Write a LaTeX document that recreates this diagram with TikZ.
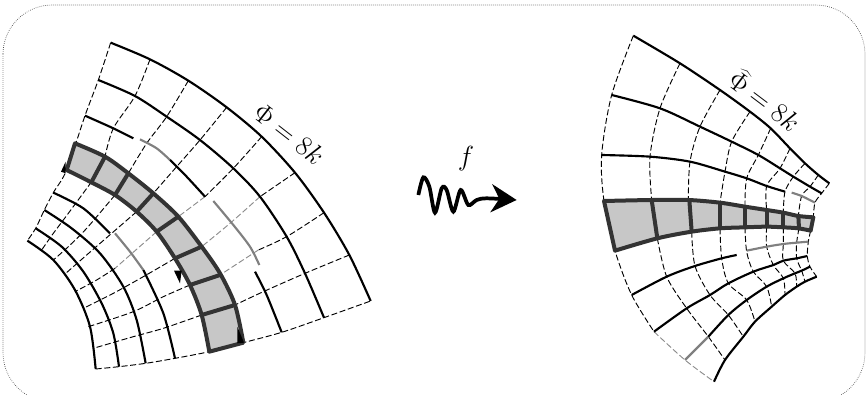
\documentclass[tikz,border=0pt]{standalone}
\usetikzlibrary{arrows.meta}

\begin{document}
\begin{tikzpicture}[x=.75pt,y=-.75pt,
  arcline/.style={draw,line width=1.6pt,line join=round},
  fadeline/.style={draw=black!50,line width=1.6pt},
  radial/.style={draw,line width=.7pt,dash pattern=on 4.5pt off 2pt},
  fadedash/.style={draw=black!45,line width=.7pt,dash pattern=on 4.5pt off 2pt},
  cell/.style={draw=black!80,line width=3pt,line join=round},
  nick/.style={fill=black},
  lbl/.style={font=\fontsize{20}{22}\selectfont,inner sep=0pt},
  >=Stealth]
\useasboundingbox (0,0) rectangle (868,395);
\draw[black!70,densely dotted,line width=.5pt,rounded corners=37pt] (3,5) rectangle (865,402);

% left grid, in units of a third of a pixel
\begin{scope}[shift={(0,20)},x=.25pt,y=-.25pt]
% band
\fill[black!22] plot[smooth] coordinates {(225,370) (315,410) (385,460) (460,520) (535,590) (605,680) (660,760) (705,855) (730,968)}
  -- plot[smooth] coordinates {(628,995) (605,885) (570,795) (525,715) (470,635) (410,575) (345,525) (270,485) (200,450)} -- cycle;
% radial lines
\draw[radial] plot[smooth] coordinates {(332,68) (295,180) (255,287) (200,450) (160,518) (133,570) (107,625) (82,662)};
\draw[radial] plot[smooth] coordinates {(450,118) (405,228) (340,325) (315,410)};
\draw[radial] plot[smooth] coordinates {(275,485) (205,580) (160,640) (125,690)};
\draw[radial] plot[smooth] coordinates {(565,182) (500,290) (440,370) (385,460)};
\draw[radial] plot[smooth] coordinates {(345,525) (260,625) (205,680) (160,720)};
\draw[radial] plot[smooth] coordinates {(680,262) (600,360) (530,440) (460,520)};
\draw[radial] plot[smooth] coordinates {(410,575) (335,640) (260,705) (195,762)};
\draw[radial] plot[smooth] coordinates {(785,350) (700,445) (615,530)};
\draw[fadedash] plot[smooth] coordinates {(615,530) (535,590)};
\draw[fadedash] plot[smooth] coordinates {(470,635) (345,745)};
\draw[radial] plot[smooth] coordinates {(345,745) (290,780) (225,815)};
\draw[radial] plot[smooth] coordinates {(885,458) (780,530)};
\draw[fadedash] plot[smooth] coordinates {(780,530) (690,610) (605,680)};
\draw[radial] plot[smooth] coordinates {(525,715) (430,770) (340,820) (250,865)};
\draw[radial] plot[smooth] coordinates {(972,578) (860,650) (775,690)};
\draw[fadedash] plot[smooth] coordinates {(775,690) (660,765)};
\draw[radial] plot[smooth] coordinates {(570,795) (490,830) (400,875) (265,920)};
\draw[radial] plot[smooth] coordinates {(1048,705) (915,760) (790,815) (705,855)};
\draw[radial] plot[smooth] coordinates {(605,885) (490,925) (400,950) (280,985)};
\draw[radial] plot[smooth] coordinates {(287,1047) (357,1040) (437,1030) (525,1015) (628,995) (730,968) (845,937) (972,893) (1112,843)};
% solid arcs
\draw[arcline] plot[smooth] coordinates {(332,68) (450,118) (565,182) (680,262) (785,350) (885,458) (972,578) (1048,705) (1112,843)};
\draw[arcline] plot[smooth] coordinates {(295,180) (405,228) (500,290) (600,360) (700,445) (780,530) (860,650) (915,760) (972,893)};
\draw[arcline] plot[smooth] coordinates {(255,287) (340,325) (400,355)};
\draw[fadeline] plot[smooth] coordinates {(420,358) (470,385) (510,420)};
\draw[arcline] plot[smooth] coordinates {(510,420) (560,470) (615,530)};
\draw[fadeline] plot[smooth] coordinates {(640,543) (700,615) (750,680) (778,735)};
\draw[arcline] plot[smooth] coordinates {(765,755) (800,825) (845,937)};
\draw[arcline] plot[smooth] coordinates {(160,518) (250,565) (330,640)};
\draw[fadeline] plot[smooth] coordinates {(345,640) (390,695) (430,750)};
\draw[arcline] plot[smooth] coordinates {(430,750) (490,880) (525,1015)};
\draw[arcline] plot[smooth] coordinates {(133,570) (215,625) (300,700) (370,800) (410,900) (437,1030)};
\draw[arcline] plot[smooth] coordinates {(107,625) (185,680) (250,755) (305,850) (340,940) (357,1040)};
\draw[arcline] plot[smooth] coordinates {(82,662) (160,720) (225,810) (270,920) (287,1047)};
% band outline and cross lines
\draw[cell] plot[smooth] coordinates {(225,370) (315,410) (385,460) (460,520) (535,590) (605,680) (660,760) (705,855) (730,968)}
  -- plot[smooth] coordinates {(628,995) (605,885) (570,795) (525,715) (470,635) (410,575) (345,525) (270,485) (200,450)} -- cycle;
\foreach \xa/\ya/\xb/\yb in {315/410/275/485,385/460/345/525,460/520/410/575,535/590/470/635,605/680/525/715,660/765/570/795,705/855/605/885}
  \draw[cell] (\xa,\ya) -- (\xb,\yb);
\foreach \xa/\ya/\xb/\yb/\xc/\yc in {183/455/197/425/197/460,522/752/545/752/540/790,712/920/732/968/712/970}
  \fill[nick] (\xa,\ya) -- (\xb,\yb) -- (\xc,\yc) -- cycle;
\node[lbl,rotate=-38] (phileft) at (868,342) {$\Phi = 8k$};
\end{scope}

% wavy arrow
\begin{scope}[shift={(400,20)},x=.25pt,y=-.25pt]
\coordinate (wavestart) at (55,525);
\coordinate (wavetip) at (350,540);
\draw[line width=2.8pt,-{Stealth[length=19pt,width=21pt,inset=6pt]}] plot[smooth] coordinates {(wavestart) (70,472) (88,500) (105,578) (125,505) (140,510) (160,575) (182,510) (205,555) (230,540) (260,535) (wavetip)};
\node[font=\fontsize{21}{23}\selectfont,inner sep=0pt] (mapf) at (198,415) {$f$};

% right grid
\fill[black!22] plot[smooth] coordinates {(612,543) (755,540) (865,540) (960,548) (1035,560) (1100,570) (1150,578) (1195,588) (1240,592)}
  -- plot[smooth] coordinates {(1232,632) (1195,625) (1150,622) (1100,620) (1035,622) (960,625) (875,635) (772,655) (645,692)} -- cycle;
% radial lines
\draw[radial] plot[smooth] coordinates {(700,47) (635,225) (605,405) (612,543) (645,692) (695,825) (762,935)};
\draw[fadedash] plot[smooth] coordinates {(762,935) (855,1020) (942,1085)};
\draw[radial] plot[smooth] coordinates {(840,130) (780,265) (750,410) (755,540)};
\draw[radial] plot[smooth] coordinates {(772,655) (800,770) (860,865) (925,950) (975,1020)};
\draw[radial] plot[smooth] coordinates {(960,210) (900,320) (870,425) (865,540)};
\draw[radial] plot[smooth] coordinates {(875,635) (885,738) (930,825) (985,885) (1030,950)};
\draw[radial] plot[smooth] coordinates {(1050,275) (995,365) (975,455) (960,548)};
\draw[radial] plot[smooth] coordinates {(960,625) (965,715) (985,790) (1040,840) (1065,905)};
\draw[radial] plot[smooth] coordinates {(1112,325) (1075,405) (1040,475) (1035,560)};
\draw[radial] plot[smooth] coordinates {(1035,622) (1040,695) (1060,755) (1100,800) (1115,860)};
\draw[radial] plot[smooth] coordinates {(1170,385) (1140,445) (1100,498) (1100,570)};
\draw[radial] plot[smooth] coordinates {(1100,620) (1100,680) (1120,735) (1150,775) (1155,825)};
\draw[radial] plot[smooth] coordinates {(1215,430) (1180,470) (1155,515) (1150,578)};
\draw[radial] plot[smooth] coordinates {(1150,622) (1150,672) (1150,722) (1185,760) (1190,800)};
\draw[radial] plot[smooth] coordinates {(1255,465) (1230,500) (1205,528) (1195,588)};
\draw[radial] plot[smooth] coordinates {(1197,625) (1190,668) (1190,715) (1205,752) (1215,785)};
\draw[radial] plot[smooth] coordinates {(1288,490) (1265,520) (1245,548) (1240,592)};
\draw[radial] plot[smooth] coordinates {(1232,632) (1225,665) (1222,708) (1230,740) (1250,770)};
% solid arcs
\draw[arcline] plot[smooth] coordinates {(700,47) (840,130) (960,210) (1050,275) (1112,325) (1170,385) (1215,430) (1255,465) (1288,490)};
\draw[arcline] plot[smooth] coordinates {(635,225) (780,265) (900,320) (995,365) (1075,405) (1140,445) (1180,470) (1230,500) (1265,520)};
\draw[arcline] plot[smooth] coordinates {(605,405) (750,410) (870,425) (975,455) (1040,475) (1100,498) (1155,515)};
\draw[fadeline] plot[smooth] coordinates {(1175,518) (1205,528) (1245,548)};
\draw[arcline] plot[smooth] coordinates {(695,825) (800,770) (885,738) (965,715) (1010,705)};
\draw[fadeline] plot[smooth] coordinates {(1040,692) (1100,680) (1150,672) (1190,668) (1225,665)};
\draw[arcline] plot[smooth] coordinates {(762,935) (860,865) (930,825) (985,790) (1060,755) (1120,735) (1150,722) (1190,715) (1222,708)};
\draw[fadeline] plot[smooth] coordinates {(855,1020) (925,950)};
\draw[arcline] plot[smooth] coordinates {(925,950) (985,885) (1040,840) (1100,800) (1150,775) (1185,760) (1205,752) (1230,740)};
\draw[arcline] plot[smooth] coordinates {(942,1085) (975,1020) (1030,950) (1065,905) (1115,860) (1155,825) (1190,800) (1215,785) (1250,770)};
% band outline and cross lines
\draw[cell] plot[smooth] coordinates {(612,543) (755,540) (865,540) (960,548) (1035,560) (1100,570) (1150,578) (1195,588) (1240,592)}
  -- plot[smooth] coordinates {(1232,632) (1195,625) (1150,622) (1100,620) (1035,622) (960,625) (875,635) (772,655) (645,692)} -- cycle;
\foreach \xa/\ya/\xb/\yb in {755/540/772/655,868/540/875/635,960/548/960/625,1035/560/1035/622,1100/570/1100/620,1150/578/1150/622,1195/588/1197/625}
  \draw[cell] (\xa,\ya) -- (\xb,\yb);
\node[lbl,rotate=-37] (phiright) at (1097,238) {$\widehat{\Phi} = 8k$};
\end{scope}
\end{tikzpicture}
\end{document}
